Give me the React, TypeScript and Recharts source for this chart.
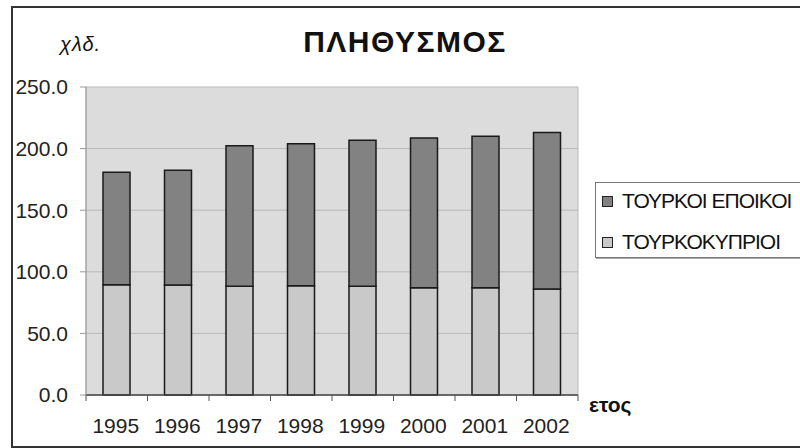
import React from 'react';
import { BarChart, Bar, XAxis, YAxis, CartesianGrid } from 'recharts';

const years = ['1995', '1996', '1997', '1998', '1999', '2000', '2001', '2002'];
const turkishCypriots = [89.5, 89.3, 88.2, 88.7, 88.2, 87.1, 87.1, 86.0];
const turkishSettlers = [91.4, 93.2, 114.2, 115.3, 118.5, 121.5, 122.9, 127.0];
const yTicks = [0, 50, 100, 150, 200, 250];
const seriesNames = ['ΤΟΥΡΚΟΙ ΕΠΟΙΚΟΙ', 'ΤΟΥΡΚΟΚΥΠΡΙΟΙ'];
const titleText = 'ΠΛΗΘΥΣΜΟΣ';
const yUnit = 'χλδ.';
const xName = 'ετος';

const data = years.map((y, i) => ({
  year: y,
  cypriots: turkishCypriots[i],
  settlers: turkishSettlers[i],
}));

const FONT = '"Liberation Sans", Arial, sans-serif';
const LIGHT = '#c9c9c9';
const DARK = '#828282';

const XTick = (props: any) => {
  const { x, y, payload, index, visibleTicksCount } = props;
  const off = payload.offset || 0;
  const top = y - 6;
  const last = index === visibleTicksCount - 1;
  return (
    <g>
      <line x1={x - off} x2={x - off} y1={top} y2={y} stroke="#555" strokeWidth={1} />
      {last && <line x1={x + off} x2={x + off} y1={top} y2={y} stroke="#555" strokeWidth={1} />}
      <text x={x - 1} y={y + 32} textAnchor="middle" fontFamily={FONT} fontSize={21} fill="#222">
        {payload.value}
      </text>
    </g>
  );
};

const LegendBox = () => {
  const swatches = [DARK, LIGHT];
  return (
    <div
      style={{
        position: 'absolute',
        left: 595,
        top: 182,
        width: 240,
        height: 74,
        border: '1px solid #777',
        boxShadow: '1px 1px 0 #aaa',
        background: '#fff',
      }}
    >
      {seriesNames.map((n, i) => (
        <div
          key={n}
          style={{
            position: 'absolute',
            left: 6,
            top: 5 + i * 41,
            height: 26,
            display: 'flex',
            alignItems: 'center',
            whiteSpace: 'nowrap',
          }}
        >
          <div
            style={{
              width: 9,
              height: 9,
              border: '1.5px solid #222',
              background: swatches[i],
              marginRight: 9,
            }}
          />
          <span style={{ fontFamily: FONT, fontSize: 21, color: '#111', letterSpacing: -1 }}>{n}</span>
        </div>
      ))}
    </div>
  );
};

export default function App() {
  return (
    <div
      style={{
        position: 'absolute',
        left: 0,
        top: 0,
        width: 800,
        height: 448,
        overflow: 'hidden',
        background: '#fff',
      }}
    >
      <div
        style={{
          position: 'absolute',
          left: 11,
          top: 6,
          width: 800,
          height: 438,
          border: '2px solid #333',
        }}
      />
      <BarChart
        width={800}
        height={448}
        data={data}
        margin={{ top: 87, right: 222, bottom: 13, left: 12 }}
        style={{ position: 'absolute', left: 0, top: 0 }}
      >
        <CartesianGrid
          fill="#dcdcdc"
          stroke="#b9b9b9"
          verticalCoordinatesGenerator={({ offset }: any) => [offset.left, offset.left + offset.width]}
        />
        <XAxis
          dataKey="year"
          height={40}
          tickSize={6}
          tickMargin={0}
          tickLine={false}
          axisLine={{ stroke: '#444', strokeWidth: 1.5 }}
          tick={<XTick />}
          interval={0}
        />
        <YAxis
          width={74}
          domain={[0, 250]}
          ticks={yTicks}
          interval={0}
          tickSize={6}
          tickMargin={12}
          axisLine={{ stroke: '#999' }}
          tickLine={{ stroke: '#999' }}
          tick={{ fontFamily: FONT, fontSize: 21, fill: '#222' }}
          tickFormatter={(v: number) => v.toFixed(1)}
        />
        <Bar
          dataKey="cypriots"
          name={seriesNames[1]}
          stackId="a"
          fill={LIGHT}
          stroke="#1a1a1a"
          strokeWidth={1.5}
          barSize={27}
          isAnimationActive={false}
        />
        <Bar
          dataKey="settlers"
          name={seriesNames[0]}
          stackId="a"
          fill={DARK}
          stroke="#1a1a1a"
          strokeWidth={1.5}
          barSize={27}
          isAnimationActive={false}
        />
      </BarChart>
      <div
        style={{
          position: 'absolute',
          left: 0,
          width: 810,
          top: 25,
          textAlign: 'center',
          fontFamily: FONT,
          fontWeight: 'bold',
          fontSize: 30,
          letterSpacing: 1.5,
          color: '#111',
        }}
      >
        {titleText}
      </div>
      <div
        style={{
          position: 'absolute',
          left: 60,
          top: 33,
          fontFamily: FONT,
          fontStyle: 'italic',
          fontSize: 20,
          letterSpacing: 1,
          color: '#111',
        }}
      >
        {yUnit}
      </div>
      <div
        style={{
          position: 'absolute',
          left: 589,
          top: 393,
          fontFamily: FONT,
          fontWeight: 'bold',
          fontSize: 21,
          color: '#111',
        }}
      >
        {xName}
      </div>
      <LegendBox />
    </div>
  );
}
